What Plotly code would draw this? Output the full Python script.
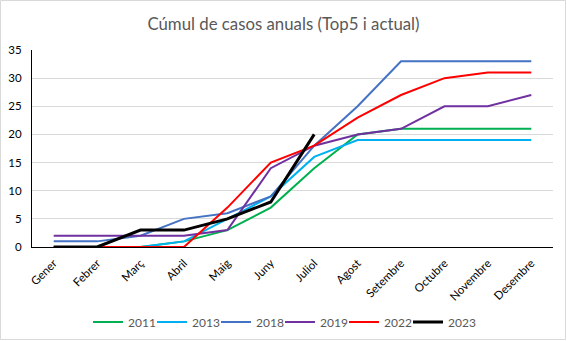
import plotly.graph_objects as go

months = ["Gener", "Febrer", "Març", "Abril", "Maig", "Juny", "Juliol",
          "Agost", "Setembre", "Octubre", "Novembre", "Desembre"]
s2011 = [0, 0, 0, 1, 3, 7, 14, 20, 21, 21, 21, 21]
s2013 = [0, 0, 0, 1, 5, 9, 16, 19, 19, 19, 19, 19]
s2018 = [1, 1, 2, 5, 6, 9, 18, 25, 33, 33, 33, 33]
s2019 = [2, 2, 2, 2, 3, 14, 18, 20, 21, 25, 25, 27]
s2022 = [0, 0, 0, 0, 7, 15, 18, 23, 27, 30, 31, 31]
s2023 = [0, 0, 3, 3, 5, 8, 20]

series = [
    ("2011", s2011, "#00b050", 2),
    ("2013", s2013, "#00b0f0", 2),
    ("2018", s2018, "#4472c4", 2),
    ("2019", s2019, "#7030a0", 2),
    ("2022", s2022, "#ff0000", 2),
    ("2023", s2023, "#000000", 3),
]

fig = go.Figure()
for name, vals, color, w in series:
    fig.add_trace(go.Scatter(x=months[:len(vals)], y=vals, name=name, mode="lines",
                             line=dict(color=color, width=w)))
# spacer legend entry (invisible) so the last legend label is not clipped
fig.add_trace(go.Scatter(x=[None], y=[None], name=" ", mode="lines",
                         line=dict(color="rgba(0,0,0,0)", width=0),
                         hoverinfo="skip"))

L, R, T, B = 32, 14, 50, 94
W, H = 567, 341
pw, ph = W - L - R, H - T - B

fig.update_layout(
    width=W, height=H,
    margin=dict(l=L, r=R, t=T, b=B, autoexpand=False),
    paper_bgcolor="white", plot_bgcolor="white",
    font=dict(family="Lato, Carlito, sans-serif", size=12, color="#000000"),
    title=dict(text="Cúmul de casos anuals (Top5 i actual)", x=0.5, xref="container",
               xanchor="center", y=1 - 24 / H, yanchor="middle",
               font=dict(size=16.8, color="#595959")),
    xaxis=dict(type="category", range=[-0.5, 11.5], tickangle=-45,
               showline=True, linecolor="#000000", linewidth=1, automargin=False,
               showgrid=False, ticks="", ticklabelstandoff=4,
               tickfont=dict(size=11.5, color="#000000")),
    yaxis=dict(range=[0, 35], dtick=5, showline=True, linecolor="#000000",
               linewidth=1, gridcolor="#d9d9d9", gridwidth=1, ticks="",
               automargin=False, zeroline=False, ticklabelstandoff=7,
               tickfont=dict(size=11.5, color="#000000")),
    legend=dict(orientation="h", x=(88 - L) / pw, xanchor="left",
                y=(ph - (322 - T)) / ph, yanchor="middle",
                font=dict(size=12, color="#595959"),
                entrywidth=19, entrywidthmode="pixels"),
    showlegend=True,
)

fig.add_shape(type="rect", xref="paper", yref="paper",
              x0=(0.5 - L) / pw, x1=(W - 1.5 - L) / pw,
              y0=(ph + T - (H - 1.5)) / ph, y1=(ph + T - 0.5) / ph,
              line=dict(color="#d9d9d9", width=1), layer="below")

fig.write_html("out.html")
